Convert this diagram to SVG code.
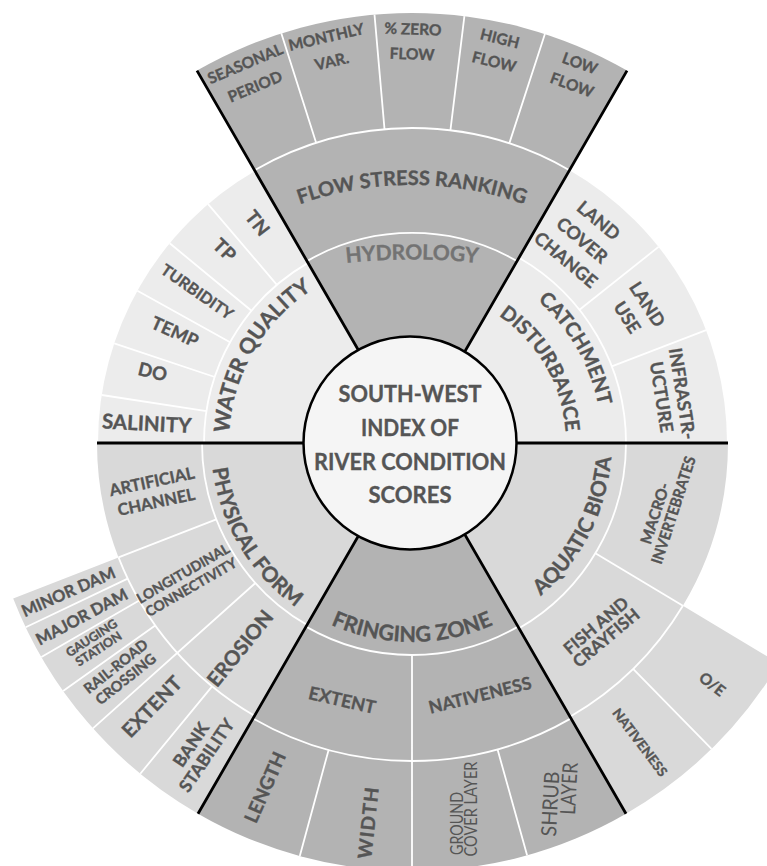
<svg xmlns="http://www.w3.org/2000/svg" width="767" height="866" viewBox="0 0 767 866">
<style>
.h{fill:#b3b3b3}.l{fill:#ececec}.m{fill:#d9d9d9}
.sep{stroke:#fff;stroke-width:1.8;fill:none}
.blk{stroke:#000;stroke-width:2.8;fill:none}
text{font-family:Lato,"Open Sans","Liberation Sans",sans-serif;font-weight:700;fill:#555;stroke:#555;stroke-width:0.35;text-anchor:middle}
.r{font-weight:400;stroke:none}
.s{text-anchor:start}
</style>
<defs>
<path id="pFsr" d="M262,220.3 A336,336 0 0 1 562,220.3"/>
<path id="pHyd" d="M299,270.2 A600,600 0 0 1 525,270.2"/>
<path id="pWq" d="M235.2,490.4 A183,183 0 0 1 364.6,266.2"/>
<path id="pCat" d="M461.4,259.5 A190,190 0 0 1 595.5,492.2"/>
<path id="pDis" d="M451.9,294.2 A154,154 0 0 1 560.8,482.9"/>
<path id="pPhy" d="M217,394.4 A201,201 0 0 0 363.4,638"/>
<path id="pFri" d="M271.3,583.7 A199,199 0 0 0 552.7,583.7"/>
<path id="pAqu" d="M473.8,633.2 A201,201 0 0 0 602.2,381.2"/>
</defs>

<g id="hydrology">
<path class="h" d="M412,443 L197,70.6 A430,430 0 0 1 627,70.6 Z"/>
<path class="sep" d="M307,261.1 A210,210 0 0 1 517,261.1 M254.5,170.2 A315,315 0 0 1 569.5,170.2 M316.2,142.9 L281.3,33.3 M384.5,129.2 L374.5,14.6 M450.4,130.4 L464.4,16.2 M509.3,143.4 L544.9,34"/>
<text font-size="21" style="fill:#737373;stroke:#737373"><textPath href="#pHyd" startOffset="50%">HYDROLOGY</textPath></text>
<text font-size="20"><textPath href="#pFsr" startOffset="50%">FLOW STRESS RANKING</textPath></text>
<text font-size="15.5" transform="translate(250,75) rotate(-23)"><tspan x="0" y="-6.9">SEASONAL</tspan><tspan x="0" y="18.1">PERIOD</tspan></text>
<text font-size="15.5" transform="translate(329,49) rotate(-13)"><tspan x="0" y="-6.9">MONTHLY</tspan><tspan x="0" y="18.1">VAR.</tspan></text>
<text font-size="15.5" transform="translate(412.5,41.5) rotate(2)"><tspan x="0" y="-6.9">% ZERO</tspan><tspan x="0" y="18.1">FLOW</tspan></text>
<text font-size="15.5" transform="translate(497,50) rotate(14)"><tspan x="0" y="-6.4">HIGH</tspan><tspan x="0" y="17.6">FLOW</tspan></text>
<text font-size="15.5" transform="translate(576,74) rotate(20)"><tspan x="0" y="-5.9">LOW</tspan><tspan x="0" y="17.1">FLOW</tspan></text>
</g>

<g id="catchment">
<path class="l" d="M412,443 L569.5,170.2 A315,315 0 0 1 727,443 Z"/>
<path class="sep" d="M519,257.7 A214,214 0 0 1 626,443 M579.5,309.8 L658.5,246.9 M611.8,366.3 L706.1,330.1"/>
<text font-size="20"><textPath href="#pCat" startOffset="50%">CATCHMENT</textPath></text>
<text font-size="20"><textPath href="#pDis" startOffset="50%">DISTURBANCE</textPath></text>
<text font-size="18" transform="translate(582.3,240) rotate(40)"><tspan x="0" y="-19">LAND</tspan><tspan x="0" y="6.5">COVER</tspan><tspan x="0" y="32">CHANGE</tspan></text>
<text font-size="18" transform="translate(637.3,310.7) rotate(57)"><tspan x="0" y="-5.5">LAND</tspan><tspan x="0" y="18.5">USE</tspan></text>
<text font-size="18" transform="translate(672,395.3) rotate(81)"><tspan x="0" y="-4">INFRASTR-</tspan><tspan x="0" y="17">UCTURE</tspan></text>
</g>

<g id="water-quality">
<path class="l" d="M412,443 L98,443 A314,314 0 0 1 255,171.1 Z"/>
<path class="sep" d="M204,443 A208,208 0 0 1 308,262.9 M276.9,284.8 L208.1,204.2 M251.5,310.7 L169.7,243.3 M230.1,342.2 L137.4,290.8 M214.8,377 L114.2,343.4 M206.5,411.2 L101.7,395"/>
<text font-size="21.5"><textPath href="#pWq" startOffset="50%">WATER QUALITY</textPath></text>
<text font-size="19" transform="translate(257.5,223) rotate(52)" y="6.8">TN</text>
<text font-size="19" transform="translate(224.5,250) rotate(44)" y="6.8">TP</text>
<text font-size="16" transform="translate(197.3,291.7) rotate(35)" y="5.8">TURBIDITY</text>
<text font-size="18" transform="translate(175,331.7) rotate(24)" y="6.5">TEMP</text>
<text font-size="18.5" transform="translate(152.7,371.7) rotate(13.5)" y="6.7">DO</text>
<text font-size="20.5" transform="translate(146.7,423.3) rotate(3)" y="7.4">SALINITY</text>
</g>

<g id="physical-form">
<path class="m" d="M412,443 L198,813.7 A428,428 0 0 1 13.2,598.5 L118.5,557.4 A315,315 0 0 1 97,443 Z"/>
<path class="sep" d="M307,624.9 A210,210 0 0 1 202,443 M254.5,715.8 A315,315 0 0 1 118.5,557.4 M216.3,519.3 L118.5,557.4 M255.4,583 L92.9,728.3 M212.1,686.4 L140.3,773.7 M127.7,578.6 L25.7,627.3 M139.2,600.5 L41.4,657 M155.2,625.5 L63.1,691"/>
<text font-size="21"><textPath href="#pPhy" startOffset="50%">PHYSICAL FORM</textPath></text>
<text font-size="16.5" transform="translate(154,491.7) rotate(-12)"><tspan x="0" y="-4.6">ARTIFICIAL</tspan><tspan x="0" y="16.4">CHANNEL</tspan></text>
<text font-size="14" transform="translate(187,580.3) rotate(-30)"><tspan x="0" y="-3">LONGITUDINAL</tspan><tspan x="0" y="13">CONNECTIVITY</tspan></text>
<text font-size="20.5" transform="translate(240,648.3) rotate(-51)" y="7.4">EROSION</text>
<text font-size="16.5" transform="translate(68.3,591.7) rotate(-23.5)" y="5.9">MINOR DAM</text>
<text font-size="16.5" transform="translate(81.7,616.7) rotate(-28)" y="5.9">MAJOR DAM</text>
<text font-size="12.5" transform="translate(95,643.3) rotate(-33)"><tspan x="0" y="-2">GAUGING</tspan><tspan x="0" y="11">STATION</tspan></text>
<text font-size="14.5" transform="translate(120.7,672.7) rotate(-38.5)"><tspan x="0" y="-2.8">RAIL-ROAD</tspan><tspan x="0" y="13.2">CROSSING</tspan></text>
<text font-size="20" transform="translate(151.7,706.7) rotate(-46)" y="7.2">EXTENT</text>
<text font-size="17.5" transform="translate(198.7,750) rotate(-56)"><tspan x="0" y="-3.2">BANK</tspan><tspan x="0" y="15.8">STABILITY</tspan></text>
</g>

<g id="fringing-zone">
<path class="h" d="M412,443 L626,813.7 A428,428 0 0 1 198,813.7 Z"/>
<path class="sep" d="M518,626.6 A212,212 0 0 1 306,626.6 M571,718.4 A318,318 0 0 1 253,718.4 M412,655 L412,871 M328.6,749.9 L299.8,856 M497.5,749.3 L527.1,855.2"/>
<text font-size="21.5"><textPath href="#pFri" startOffset="50%">FRINGING ZONE</textPath></text>
<text font-size="18" transform="translate(342.3,700) rotate(13)" y="6.5">EXTENT</text>
<text font-size="17.5" transform="translate(480,695) rotate(-14)" y="6.3">NATIVENESS</text>
<text font-size="19" transform="translate(265,787.3) rotate(-66)" y="6.8">LENGTH</text>
<text font-size="19" transform="translate(368.3,822.3) rotate(-84)" y="6.8" letter-spacing="1.5">WIDTH</text>
<text class="r s" font-size="18" transform="translate(463,855) rotate(-90)" textLength="63" lengthAdjust="spacingAndGlyphs">GROUND</text>
<text class="r s" font-size="18" transform="translate(477,856.5) rotate(-90)" textLength="95" lengthAdjust="spacingAndGlyphs">COVER LAYER</text>
<text class="r s" font-size="21" transform="translate(556,836.7) rotate(-87)" textLength="65" lengthAdjust="spacingAndGlyphs">SHRUB</text>
<text class="r s" font-size="21" transform="translate(575,815) rotate(-87)" textLength="52" lengthAdjust="spacingAndGlyphs">LAYER</text>
</g>

<g id="aquatic-biota">
<path class="m" d="M412,443 L728,443 A316,316 0 0 1 682.9,605.7 L778.9,663.4 A428,428 0 0 1 626,813.7 Z"/>
<path class="sep" d="M626,443 A214,214 0 0 1 519,628.3 M682.9,605.7 A316,316 0 0 1 570,716.7 M595.4,553.2 L682.9,605.7 M633.1,668.8 L711.5,748.8"/>
<text font-size="21"><textPath href="#pAqu" startOffset="50%">AQUATIC BIOTA</textPath></text>
<text font-size="15.5" transform="translate(655,513.3) rotate(-72)" y="5.6">MACRO-</text>
<text font-size="15.5" transform="translate(673.3,510) rotate(-72)" y="5.6" textLength="112" lengthAdjust="spacingAndGlyphs">INVERTEBRATES</text>
<text font-size="17" transform="translate(601,631.7) rotate(-40)"><tspan x="0" y="-1.9">FISH AND</tspan><tspan x="0" y="14.1">CRAYFISH</tspan></text>
<text font-size="15.5" transform="translate(712.3,684) rotate(38)" y="5.6">O/E</text>
<text font-size="13.5" transform="translate(640,742.3) rotate(53)" y="4.9">NATIVENESS</text>
</g>

<g id="connectors">
<path class="blk" d="M412,443 L197,70.6 M412,443 L627,70.6 M97,443 L728,443 M412,443 L198,813.7 M412,443 L626,813.7"/>
</g>

<g id="center">
<circle cx="410" cy="443" r="106.5" fill="#f5f5f5" stroke="#000" stroke-width="2.5"/>
<text font-size="23.5" x="410" y="401.7" textLength="143" lengthAdjust="spacingAndGlyphs">SOUTH-WEST</text>
<text font-size="23.5" x="410" y="436" textLength="98" lengthAdjust="spacingAndGlyphs">INDEX OF</text>
<text font-size="23.5" x="410" y="470" textLength="192" lengthAdjust="spacingAndGlyphs">RIVER CONDITION</text>
<text font-size="23.5" x="410" y="502.7" textLength="83" lengthAdjust="spacingAndGlyphs">SCORES</text>
</g>
</svg>
